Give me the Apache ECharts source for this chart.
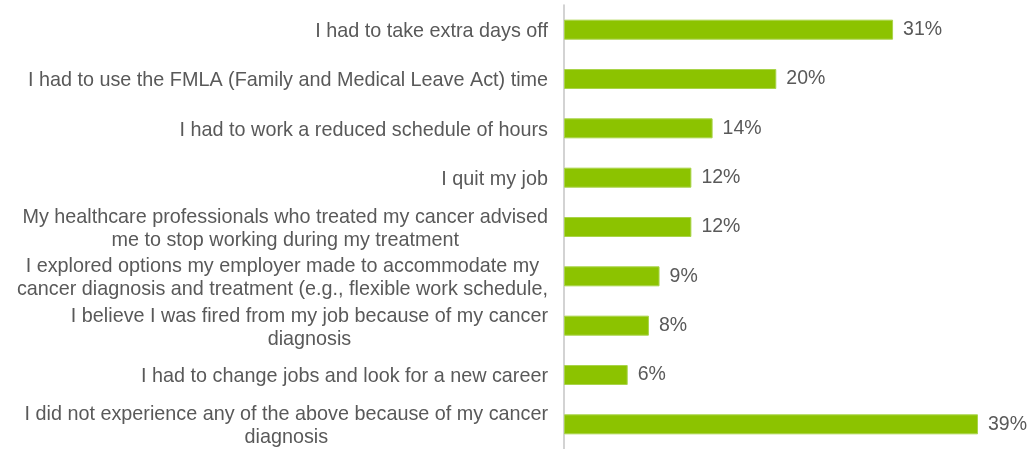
<!DOCTYPE html>
<html>
<head>
<meta charset="utf-8">
<script src="https://cdn.jsdelivr.net/npm/echarts@6/dist/echarts.min.js"></script>
<style>
  html, body { margin: 0; padding: 0; background: #fff; }
  #chart { width: 1032px; height: 449px; }
</style>
</head>
<body>
<div id="chart"></div>
<script>
const categories = [
  'I had to take extra days off',
  'I had to use the FMLA (Family and Medical Leave Act) time',
  'I had to work a reduced schedule of hours',
  'I quit my job',
  'My healthcare professionals who treated my cancer advised\nme to stop working during my treatment',
  'I explored options my employer made to accommodate my\ncancer diagnosis and treatment (e.g., flexible work schedule,',
  'I believe I was fired from my job because of my cancer\ndiagnosis',
  'I had to change jobs and look for a new career',
  'I did not experience any of the above because of my cancer\ndiagnosis'
];
const values = [31, 20, 14, 12, 12, 9, 8, 6, 39];

const chart = echarts.init(document.getElementById('chart'));

chart.setOption({
  animation: false,
  grid: { left: 564, top: 5, width: 414, height: 450 },
  xAxis: {
    type: 'value',
    min: 0,
    max: 39,
    show: false
  },
  yAxis: {
    type: 'category',
    data: categories,
    inverse: true,
    axisLine: { lineStyle: { color: '#c4c4c4', width: 1.5 } },
    axisTick: { inside: false, length: 7, lineStyle: { color: '#a8a8a8', width: 1 } },
    axisLabel: {
      margin: 16,
      padding: [4, 0, 0, 0],
      formatter: function (v) {
        return v.split('\n').map(function (s) { return '{c|' + s + '}'; }).join('\n');
      },
      rich: {
        c: {
          align: 'center',
          fontFamily: 'Liberation Sans, Arial, sans-serif',
          fontSize: 19.8,
          lineHeight: 23,
          color: '#595959'
        }
      }
    }
  },
  series: [{
    type: 'bar',
    data: values,
    barWidth: 20,
    itemStyle: { color: '#8cc300', borderColor: '#a9d44a', borderWidth: 1 },
    label: {
      show: true,
      position: 'right',
      distance: 10,
      formatter: '{c}%',
      fontFamily: 'Liberation Sans, Arial, sans-serif',
      fontSize: 19.5,
      color: '#595959'
    }
  }]
});
</script>
</body>
</html>
